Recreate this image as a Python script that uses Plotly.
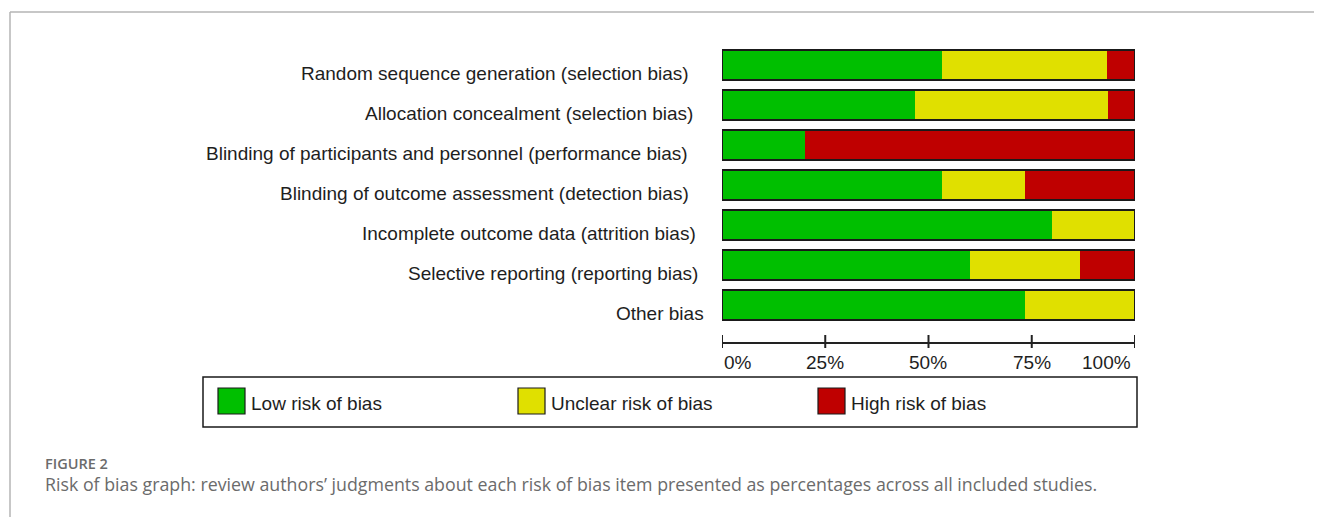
import plotly.graph_objects as go

# ---------------- data ----------------
categories = [
    "Random sequence generation (selection bias)",
    "Allocation concealment (selection bias)",
    "Blinding of participants and personnel (performance bias)",
    "Blinding of outcome assessment (detection bias)",
    "Incomplete outcome data (attrition bias)",
    "Selective reporting (reporting bias)",
    "Other bias",
]
low_risk = [53.3, 46.7, 20.0, 53.3, 80.0, 60.0, 73.3]
unclear_risk = [40.0, 46.7, 0.0, 20.0, 20.0, 26.7, 26.7]
high_risk = [6.7, 6.7, 80.0, 26.7, 0.0, 13.3, 0.0]
series_names = ["Low risk of bias", "Unclear risk of bias", "High risk of bias"]
tick_vals = [0, 25, 50, 75, 100]
tick_text = ["0%", "25%", "50%", "75%", "100%"]
caption_label = "FIGURE 2"
caption_text = ("Risk of bias graph: review authors\u2019 judgments about each risk of bias item "
                "presented as percentages across all included studies.")

# ---------------- style ----------------
W, H = 1322, 517
OX, OY = 8, 8  # page body margin offset
colors = ["#00BF00", "#E0E000", "#BF0000"]
label_font = dict(family="Liberation Sans, Arial, sans-serif", size=19, color="#1e1e1e")
label_xshift = [-12, -8, -13, -12, -5, -3, 3]


def px(x):
    return (x - OX) / W


def py(y):
    return 1 - (y - OY) / H


fig = go.Figure()
for name, vals, col in zip(series_names, [low_risk, unclear_risk, high_risk], colors):
    fig.add_trace(go.Bar(
        y=categories, x=vals, name=name, orientation="h",
        marker=dict(color=col, line=dict(width=0)),
        showlegend=False, hoverinfo="x+name",
    ))

shapes = []
annotations = []

# bar outlines
for i, _ in enumerate(categories):
    shapes.append(dict(type="rect", xref="x", yref="y", x0=0, x1=100,
                       y0=i - 0.375, y1=i + 0.375,
                       line=dict(color="#1a1a1a", width=2)))

# category labels
for i, cat in enumerate(categories):
    annotations.append(dict(text=cat, xref="paper", yref="y", x=px(703), y=i,
                            xanchor="right", yanchor="middle", showarrow=False,
                            xshift=label_xshift[i], yshift=-8, font=label_font))

# x axis (drawn)
axis_y = py(343)
shapes.append(dict(type="line", xref="x", yref="paper", x0=0, x1=100,
                   y0=axis_y, y1=axis_y, line=dict(color="#222222", width=2)))
for i, (tv, tt) in enumerate(zip(tick_vals, tick_text)):
    shapes.append(dict(type="line", xref="x", yref="paper", x0=tv, x1=tv,
                       y0=py(348), y1=py(335), line=dict(color="#222222", width=2)))
    anchor = "left" if i == 0 else ("right" if i == len(tick_vals) - 1 else "center")
    annotations.append(dict(text=tt, xref="x", yref="paper", x=tv, y=py(362),
                            xanchor=anchor, yanchor="middle", showarrow=False,
                            xshift=(-2 if anchor == "right" else 0), font=label_font))

# legend box
shapes.append(dict(type="rect", xref="paper", yref="paper", x0=px(203), x1=px(1137),
                   y0=py(427), y1=py(377), line=dict(color="#1a1a1a", width=1.5)))
for k, (name, col) in enumerate(zip(series_names, colors)):
    x0 = 218 + 300 * k
    shapes.append(dict(type="rect", xref="paper", yref="paper", x0=px(x0), x1=px(x0 + 27),
                       y0=py(414), y1=py(388), fillcolor=col,
                       line=dict(color="#1a1a1a", width=1.2)))
    annotations.append(dict(text=name, xref="paper", yref="paper", x=px(x0 + 31), y=py(403),
                            xanchor="left", yanchor="middle", showarrow=False, font=label_font))

# frame lines
shapes.append(dict(type="line", xref="paper", yref="paper", x0=px(10), x1=1,
                   y0=py(12), y1=py(12), line=dict(color="#b5b5b5", width=1.5)))
shapes.append(dict(type="line", xref="paper", yref="paper", x0=px(10), x1=px(10),
                   y0=0, y1=py(12), line=dict(color="#b5b5b5", width=1.5)))

# caption
annotations.append(dict(text=caption_label, xref="paper", yref="paper", x=px(43), y=py(463),
                        xanchor="left", yanchor="middle", showarrow=False,
                        font=dict(family="Open Sans, sans-serif", size=14.5, color="#6b6b6b",
                                  weight=600)))
annotations.append(dict(text=caption_text, xref="paper", yref="paper", x=px(43), y=py(484),
                        xanchor="left", yanchor="middle", showarrow=False,
                        font=dict(family="Open Sans, sans-serif", size=17.8, color="#6b6b6b")))

fig.update_layout(
    width=W, height=H,
    margin=dict(l=0, r=0, t=0, b=0),
    paper_bgcolor="white", plot_bgcolor="white",
    barmode="stack", bargap=0.25,
    xaxis=dict(domain=[px(722), px(1135)], range=[0, 100], visible=False, fixedrange=True),
    yaxis=dict(domain=[py(325), py(45)], type="category", categoryorder="array",
               categoryarray=categories, range=[6.5, -0.5], visible=False, fixedrange=True),
    shapes=shapes,
    annotations=annotations,
)

fig.write_html("out.html")
